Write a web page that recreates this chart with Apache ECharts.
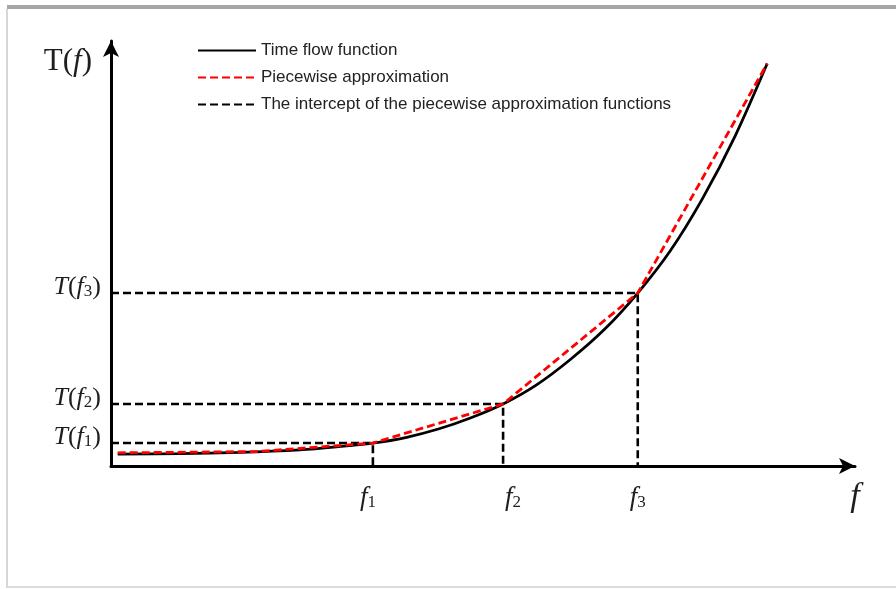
<!DOCTYPE html>
<html>
<head>
<meta charset="utf-8">
<script src="https://cdn.jsdelivr.net/npm/echarts@6/dist/echarts.min.js"></script>
<style>
  html, body { margin: 0; padding: 0; background: #fff; }
  #chart { width: 896px; height: 589px; }
</style>
</head>
<body>
<div id="chart"></div>
<script>
// Time flow function T(f), sampled along f
const flowF = [0.9, 9.3, 17.3, 25.4, 30.3, 35.2, 39.6, 44.0, 48.3, 52.7, 57.2, 61.7, 66.3, 70.8, 75.2, 79.5, 83.9, 88.2];
const flowT = [2.8, 2.9, 3.2, 3.8, 4.5, 5.4, 6.7, 8.7, 11.3, 14.6, 19.1, 25.0, 32.1, 40.7, 50.7, 62.9, 77.7, 94.7];

// Piecewise linear approximation breakpoints
const approxF = [0.9, 19.6, 35.2, 52.7, 70.8, 88.2];
const approxT = [3.1, 3.4, 5.4, 14.6, 40.7, 94.7];

// Breakpoints f1..f3 and their values T(f1)..T(f3)
const breakF = [35.2, 52.7, 70.8];
const breakT = [5.4, 14.6, 40.7];
const breakIndex = ['1', '2', '3'];

const legendNames = [
  'Time flow function',
  'Piecewise approximation',
  'The intercept of the piecewise approximation functions'
];

const serif = 'Liberation Serif';
const ink = '#1e1e1e';
const zip = (a, b) => a.map((v, i) => [v, b[i]]);

const chart = echarts.init(document.getElementById('chart'), null, { renderer: 'canvas' });

const interceptSeries = breakF.map((f, i) => ({
  name: legendNames[2],
  type: 'line',
  symbol: 'none',
  silent: true,
  z: 2,
  itemStyle: { color: '#000' },
  lineStyle: { color: '#000', width: 2.6, type: [8, 4] },
  data: [[0, breakT[i]], [f, breakT[i]], [f, 0]]
}));

chart.setOption({
  animation: false,
  backgroundColor: '#fff',
  grid: { left: 111, right: 41, top: 41, bottom: 123 },
  legend: {
    data: legendNames,
    orient: 'vertical',
    left: 197,
    top: 42,
    padding: 0,
    itemWidth: 58,
    itemHeight: 14,
    itemGap: 10,
    selectedMode: false,
    itemStyle: { opacity: 0 },
    textStyle: { fontFamily: 'Liberation Sans', fontSize: 17, color: '#222' }
  },
  graphic: [
    { type: 'rect', silent: true, z: -1, shape: { x: 7, y: 5, width: 889, height: 4 }, style: { fill: '#a6a6a6' } },
    { type: 'rect', silent: true, z: -1, shape: { x: 6, y: 9, width: 2, height: 579 }, style: { fill: '#d6d6d6' } },
    { type: 'rect', silent: true, z: -1, shape: { x: 7, y: 586, width: 889, height: 2 }, style: { fill: '#dcdcdc' } }
  ],
  xAxis: {
    type: 'value',
    min: 0,
    max: 100,
    splitLine: { show: false },
    axisTick: { show: false },
    axisLine: {
      show: true,
      symbol: ['none', 'arrow'],
      symbolSize: [12, 16],
      lineStyle: { color: '#000', width: 3 }
    },
    axisLabel: {
      customValues: breakF,
      margin: 18,
      formatter: (v) => {
        const i = breakF.indexOf(v);
        return '{it' + i + '|f}{sub' + i + '|' + breakIndex[i] + '}';
      },
      rich: {
        it0: { fontFamily: serif, fontStyle: 'italic', fontSize: 27, color: ink },
        sub0: { fontFamily: serif, fontSize: 17, color: ink, verticalAlign: 'bottom', padding: [0, 10, 0, 0] },
        it1: { fontFamily: serif, fontStyle: 'italic', fontSize: 27, color: ink, padding: [0, 0, 0, 20] },
        sub1: { fontFamily: serif, fontSize: 17, color: ink, verticalAlign: 'bottom' },
        it2: { fontFamily: serif, fontStyle: 'italic', fontSize: 27, color: ink },
        sub2: { fontFamily: serif, fontSize: 17, color: ink, verticalAlign: 'bottom' }
      }
    },
    name: '{f|f}',
    nameLocation: 'end',
    nameGap: 0,
    nameTextStyle: {
      align: 'center',
      verticalAlign: 'top',
      padding: [14, 0, 0, 0],
      rich: {
        f: { fontFamily: serif, fontStyle: 'italic', fontSize: 34, color: ink }
      }
    }
  },
  yAxis: {
    type: 'value',
    min: 0,
    max: 100,
    splitLine: { show: false },
    axisTick: { show: false },
    axisLine: {
      show: true,
      symbol: ['none', 'arrow'],
      symbolSize: [12, 16],
      lineStyle: { color: '#000', width: 3 }
    },
    axisLabel: {
      customValues: breakT,
      margin: 10,
      padding: [0, 0, 12, 0],
      formatter: (v) => {
        const i = breakT.indexOf(v);
        return '{it|T}{n|(}{it|f}{sub|' + breakIndex[i] + '}{n|)}';
      },
      rich: {
        it: { fontFamily: serif, fontStyle: 'italic', fontSize: 26, color: ink },
        n: { fontFamily: serif, fontSize: 26, color: ink },
        sub: { fontFamily: serif, fontSize: 17, color: ink, verticalAlign: 'bottom' }
      }
    },
    name: '{n|T(}{it|f}{n|)}',
    nameLocation: 'end',
    nameGap: -21,
    nameTextStyle: {
      align: 'right',
      verticalAlign: 'middle',
      padding: [0, 19, 0, 0],
      rich: {
        n: { fontFamily: serif, fontSize: 31, color: ink },
        it: { fontFamily: serif, fontStyle: 'italic', fontSize: 31, color: ink }
      }
    }
  },
  series: [
    ...interceptSeries,
    {
      name: legendNames[0],
      type: 'line',
      symbol: 'none',
      smooth: 0.3,
      z: 3,
      itemStyle: { color: '#000' },
      lineStyle: { color: '#000', width: 2.8 },
      data: zip(flowF, flowT)
    },
    {
      name: legendNames[1],
      type: 'line',
      symbol: 'none',
      z: 4,
      itemStyle: { color: '#ff0000' },
      lineStyle: { color: '#ff0000', width: 2.8, type: [8, 4] },
      data: zip(approxF, approxT)
    }
  ]
});
</script>
</body>
</html>
